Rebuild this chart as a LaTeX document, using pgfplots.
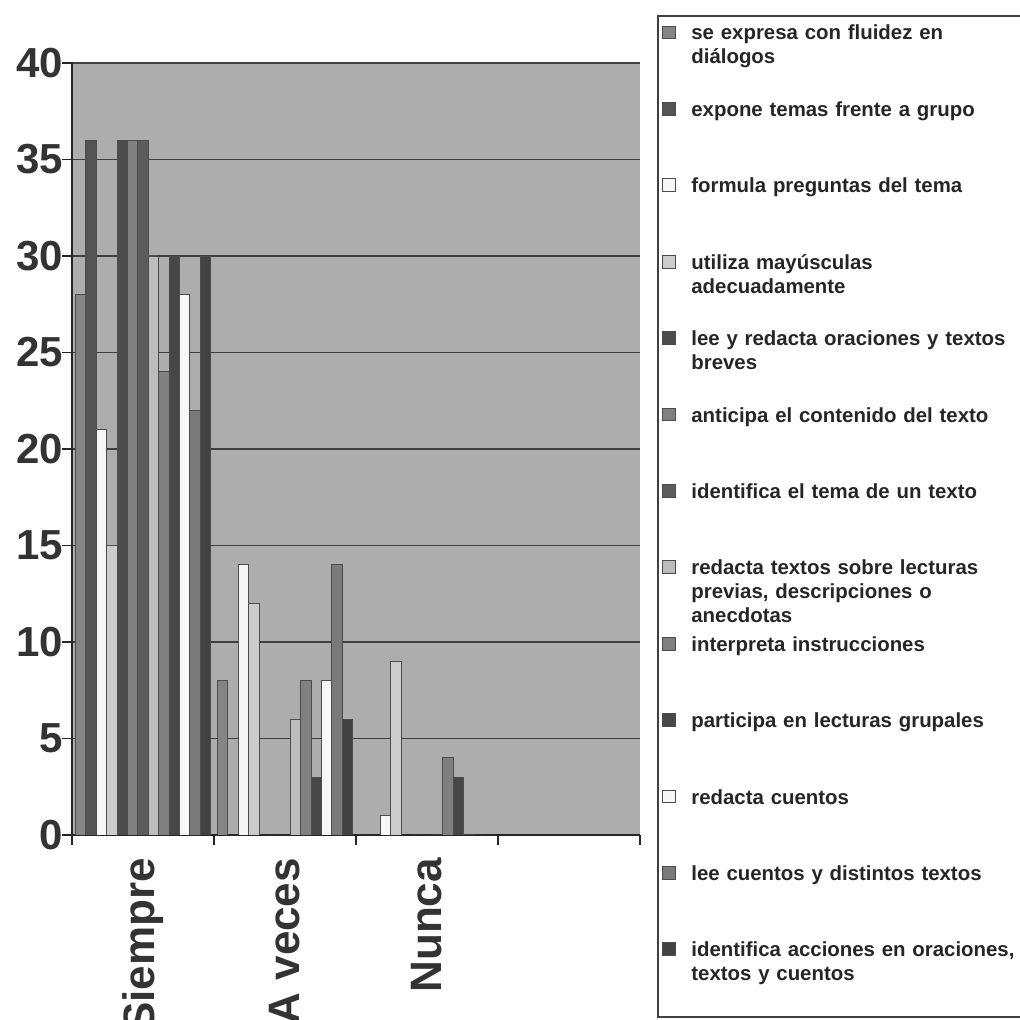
\documentclass[border=0pt]{standalone}
\usepackage{pgfplots}
\pgfplotsset{compat=1.18}
\usepackage{fontspec}
\setmainfont{Liberation Sans}

\definecolor{wall}{gray}{0.68}
\definecolor{gA}{gray}{0.52}
\definecolor{gB}{gray}{0.33}
\definecolor{gC}{gray}{0.97}
\definecolor{gD}{gray}{0.80}
\definecolor{gE}{gray}{0.30}
\definecolor{gF}{gray}{0.50}
\definecolor{gG}{gray}{0.36}
\definecolor{gH}{gray}{0.74}
\definecolor{gI}{gray}{0.50}
\definecolor{gJ}{gray}{0.28}
\definecolor{gK}{gray}{0.97}
\definecolor{gL}{gray}{0.48}
\definecolor{gM}{gray}{0.26}

\begin{document}
\begin{tikzpicture}
\useasboundingbox (0,0) rectangle (510pt,510pt);
\begin{axis}[
    at={(36pt,92.5pt)}, anchor=south west,
    scale only axis,
    width=284pt, height=386pt,
    xmin=0, xmax=4, ymin=0, ymax=40,
    ybar=0pt, bar width=5.2pt,
    axis lines*=left,
    axis line style={black!85, line width=1.1pt},
    axis background/.style={fill=wall},
    ytick={0,5,...,40},
    ymajorgrids,
    grid style={black!75, line width=0.6pt},
    xtick={0.5,1.5,2.5},
    xticklabels={Siempre, A veces, Nunca},
    minor xtick={0,1,2,3,4},
    tick align=outside,
    major x tick style={draw=none},
    minor tick length=5pt,
    major tick length=5pt,
    tick style={black!85, line width=0.8pt},
    /pgf/number format/assume math mode=true,
    yticklabel style={font=\fontsize{21}{21}\selectfont\bfseries, text=black!80, xshift=4pt},
    xticklabel style={font=\fontsize{22}{22}\selectfont\bfseries, text=black!80, rotate=90, anchor=east, xshift=-3pt},
    legend cell align=left,
    legend style={at={(1,1)}, anchor=north west, xshift=8.5pt, yshift=24pt,
        draw=black!75, line width=0.8pt, inner sep=2pt, row sep=0pt,
        font=\fontsize{10.2}{12}\selectfont\bfseries, text=black!85,
        nodes={text height=9.5pt, text depth=27.5pt, inner sep=0.6pt, align=left, text width=172pt}},
    legend image code/.code={%
        \path[fill=none, draw=none] (0pt,-18.5pt) rectangle (14pt,18.5pt);
        \draw[#1, line width=0.4pt] (0pt,9.6pt) rectangle (6.5pt,16pt);},
    every axis plot/.append style={draw=black!70, line width=0.4pt},
]
\addplot[fill=gA] coordinates {(0.5,28) (1.5,8) (2.5,0)};
\addplot[fill=gB] coordinates {(0.5,36) (1.5,0) (2.5,0)};
\addplot[fill=gC] coordinates {(0.5,21) (1.5,14) (2.5,1)};
\addplot[fill=gD] coordinates {(0.5,15) (1.5,12) (2.5,9)};
\addplot[fill=gE] coordinates {(0.5,36) (1.5,0) (2.5,0)};
\addplot[fill=gF] coordinates {(0.5,36) (1.5,0) (2.5,0)};
\addplot[fill=gG] coordinates {(0.5,36) (1.5,0) (2.5,0)};
\addplot[fill=gH] coordinates {(0.5,30) (1.5,6) (2.5,0)};
\addplot[fill=gI] coordinates {(0.5,24) (1.5,8) (2.5,4)};
\addplot[fill=gJ] coordinates {(0.5,30) (1.5,3) (2.5,3)};
\addplot[fill=gK] coordinates {(0.5,28) (1.5,8) (2.5,0)};
\addplot[fill=gL] coordinates {(0.5,22) (1.5,14) (2.5,0)};
\addplot[fill=gM] coordinates {(0.5,30) (1.5,6) (2.5,0)};
\legend{
    {se expresa con fluidez en\\ diálogos},
    {expone temas frente a grupo},
    {formula preguntas del tema},
    {utiliza mayúsculas\\ adecuadamente},
    {lee y redacta oraciones y textos\\ breves},
    {anticipa el contenido del texto},
    {identifica el tema de un texto},
    {redacta textos sobre lecturas\\ previas, descripciones o\\ anecdotas},
    {interpreta instrucciones},
    {participa en lecturas grupales},
    {redacta cuentos},
    {lee cuentos y distintos textos},
    {identifica acciones en oraciones,\\ textos y cuentos}
}
\end{axis}
\end{tikzpicture}
\end{document}
